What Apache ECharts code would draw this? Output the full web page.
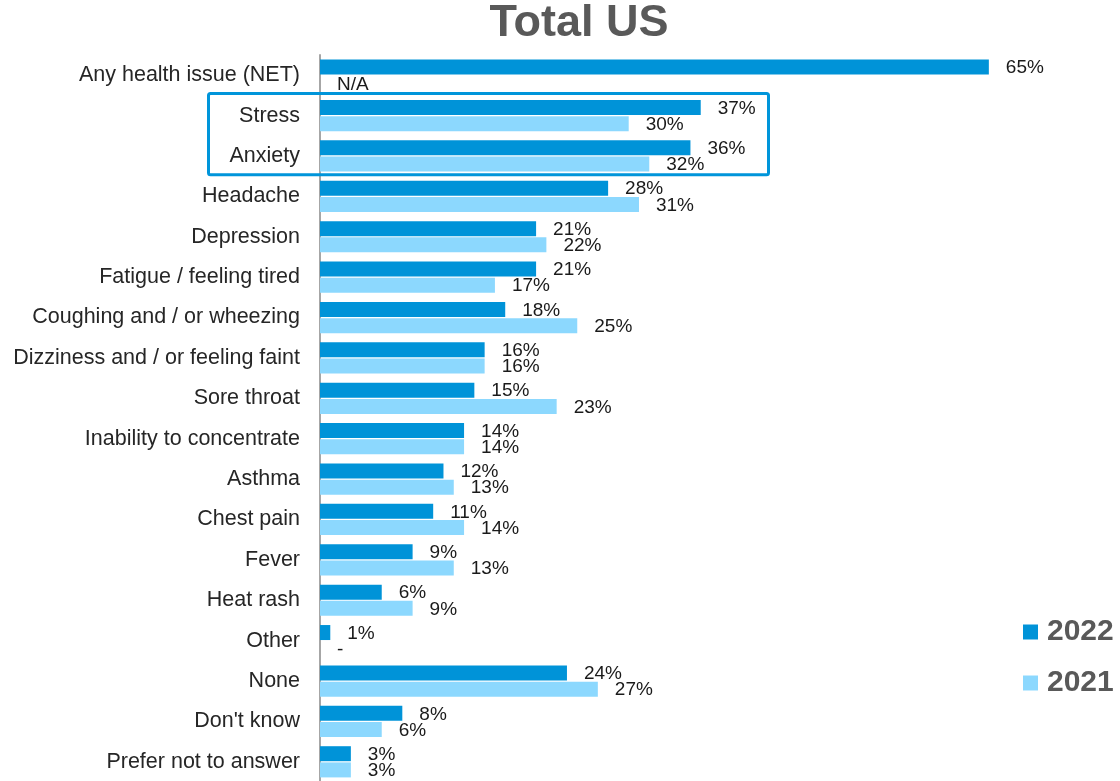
<!DOCTYPE html>
<html>
<head>
<meta charset="utf-8">
<title>Total US</title>
<script src="https://cdn.jsdelivr.net/npm/echarts@6/dist/echarts.min.js"></script>
<style>
  html, body { margin: 0; padding: 0; background: #ffffff; }
  #chart { width: 1120px; height: 781px; }
</style>
</head>
<body>
<div id="chart"></div>
<script>
// Health issues experienced, share of respondents (%)
const categories = [
  'Any health issue (NET)',
  'Stress',
  'Anxiety',
  'Headache',
  'Depression',
  'Fatigue / feeling tired',
  'Coughing and / or wheezing',
  'Dizziness and / or feeling faint',
  'Sore throat',
  'Inability to concentrate',
  'Asthma',
  'Chest pain',
  'Fever',
  'Heat rash',
  'Other',
  'None',
  "Don't know",
  'Prefer not to answer'
];
const values2022 = [65, 37, 36, 28, 21, 21, 18, 16, 15, 14, 12, 11, 9, 6, 1, 24, 8, 3];
// null = not available for that year
const values2021 = [null, 30, 32, 31, 22, 17, 25, 16, 23, 14, 13, 14, 13, 9, null, 27, 6, 3];
// text shown where a 2021 value is missing
const missing2021Text = { 'Any health issue (NET)': 'N/A', 'Other': '-' };
const seriesNames = ['2022', '2021'];
const highlighted = ['Stress', 'Anxiety'];

const COLOR_2022 = '#0093D8';
const COLOR_2021 = '#8CD8FE';

const chart = echarts.init(document.getElementById('chart'), null, { renderer: 'canvas' });

const valueLabel = {
  show: true,
  position: 'right',
  distance: 17,
  fontFamily: 'Liberation Sans, Arial, sans-serif',
  fontSize: 19,
  color: '#1a1a1a',
  formatter: p => p.value + '%'
};

const data2021 = values2021.map((v, i) => {
  if (v === null) {
    return {
      value: 0,
      label: { formatter: missing2021Text[categories[i]] || '' }
    };
  }
  return v;
});

const option = {
  animation: false,
  backgroundColor: '#ffffff',
  title: {
    text: 'Total US',
    left: 574,
    textAlign: 'center',
    top: -4,
    textStyle: {
      fontFamily: 'Liberation Sans, Arial, sans-serif',
      fontSize: 45,
      fontWeight: 'bold',
      color: '#595959'
    }
  },
  legend: {
    data: seriesNames,
    orient: 'vertical',
    left: 1018,
    top: 612,
    itemWidth: 15,
    itemHeight: 15,
    itemGap: 21,
    icon: 'rect',
    textStyle: {
      fontFamily: 'Liberation Sans, Arial, sans-serif',
      fontSize: 30,
      fontWeight: 'bold',
      color: '#595959',
      lineHeight: 30,
      padding: [0, 0, 0, 4]
    }
  },
  grid: {
    left: 320,
    top: 55,
    width: 720.3,
    height: 727,
    containLabel: false,
    outerBoundsMode: 'none'
  },
  xAxis: {
    type: 'value',
    min: 0,
    max: 70,
    show: false,
    splitLine: { show: false }
  },
  yAxis: {
    type: 'category',
    data: categories,
    inverse: true,
    axisLine: { show: true, lineStyle: { color: '#A6A6A6', width: 2 } },
    axisTick: { show: false },
    axisLabel: {
      margin: 20,
      fontFamily: 'Liberation Sans, Arial, sans-serif',
      fontSize: 21.5,
      color: '#262626'
    }
  },
  series: [
    {
      name: seriesNames[0],
      type: 'bar',
      data: values2022,
      barWidth: 15,
      barGap: '8%',
      itemStyle: { color: COLOR_2022 },
      label: Object.assign({}, valueLabel, { offset: [0, 1] })
    },
    {
      name: seriesNames[1],
      type: 'bar',
      data: data2021,
      barWidth: 15,
      barGap: '8%',
      itemStyle: { color: COLOR_2021 },
      label: Object.assign({}, valueLabel, { offset: [0, 1] })
    }
  ]
};

chart.setOption(option);

// Outline box around the highlighted categories
const yTop = chart.convertToPixel({ yAxisIndex: 0 }, highlighted[0]);
const yBottom = chart.convertToPixel({ yAxisIndex: 0 }, highlighted[highlighted.length - 1]);
const halfBand = 727 / categories.length / 2;
const boxTop = yTop - halfBand - 2;
const boxBottom = yBottom + halfBand - 1.5;
chart.setOption({
  graphic: [{
    type: 'rect',
    z: 100,
    shape: { x: 208.5, y: boxTop, width: 560, height: boxBottom - boxTop, r: 2 },
    style: { fill: 'none', stroke: '#0095DA', lineWidth: 3 }
  }]
});
</script>
</body>
</html>
